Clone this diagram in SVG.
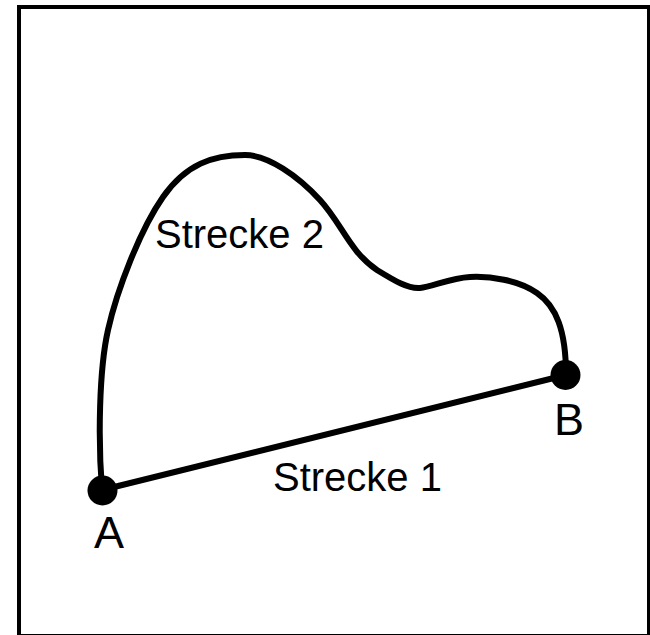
<svg xmlns="http://www.w3.org/2000/svg" width="650" height="635" viewBox="0 0 650 635">
<style>
.ln{fill:none;stroke:#000;stroke-width:6;stroke-linecap:round;stroke-linejoin:round}
.lbl{font-family:"Liberation Sans",Arial,sans-serif;fill:#000}
</style>
<rect x="0" y="0" width="650" height="635" fill="#fff"/>
<rect x="19" y="7" width="630" height="629" fill="none" stroke="#000" stroke-width="4"/>
<g id="connectors">
<path id="strecke2" class="ln" d="M102,490 C98,440 99,370 108,330 C117,290 140,230 163,197 C186,164 213,155 245,155 C268,155 298,176 320,200 C342,224 350,252 377,270 C395,281 408,289 420,288 C432,287 450,278 470,277 C490,276 518,280 537,293 C556,306 566,330 566,375"/>
<line id="strecke1" class="ln" x1="102" y1="490" x2="566" y2="375"/>
<text class="lbl" x="155" y="248" font-size="40">Strecke 2</text>
<text class="lbl" x="273" y="491" font-size="40">Strecke 1</text>
</g>
<g id="A">
<circle cx="102.5" cy="490.5" r="15" fill="#000"/>
<text class="lbl" x="94" y="548" font-size="45">A</text>
</g>
<g id="B">
<circle cx="565.5" cy="375" r="15" fill="#000"/>
<text class="lbl" x="554" y="435" font-size="45">B</text>
</g>
</svg>
